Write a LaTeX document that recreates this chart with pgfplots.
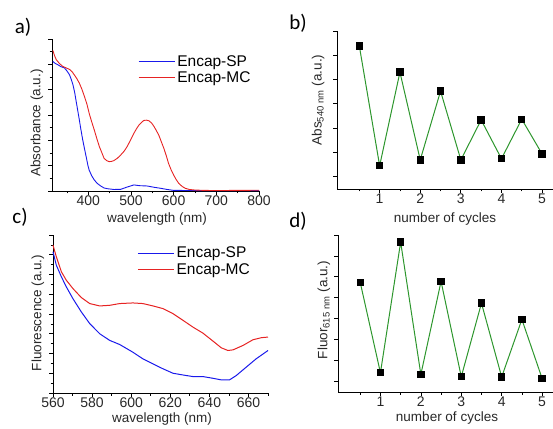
\documentclass[border=0pt]{standalone}
\usepackage{fontspec}
\setmainfont{Liberation Sans}
\newfontfamily\calfont{Carlito}
\usepackage{pgfplots}
\pgfplotsset{compat=1.18}

\definecolor{spblue}{RGB}{25,25,235}
\definecolor{mcred}{RGB}{230,35,35}
\definecolor{cycgreen}{RGB}{45,150,45}
\definecolor{txtgray}{RGB}{40,40,40}

\pgfplotsset{
  panel/.style={
    scale only axis,
    axis x line*=bottom, axis y line*=left,
    axis line style={-, black, line width=0.8pt},
    tick align=outside,
    major tick length=4pt, minor tick length=2.5pt,
    every tick/.style={black, line width=0.7pt},
    yticklabels={},
    tick label style={font=\fontsize{14}{16}\selectfont, text=txtgray},
    xticklabel style={inner sep=1pt},
    /pgf/number format/assume math mode=true,
    clip=false,
  },
  cyc/.style={panel,
    xmin=-0.05, xmax=5.27,
    xtick={1,2,3,4,5},
    minor xtick={0.5,1.5,2.5,3.5,4.5},
  },
  cycline/.style={color=cycgreen, line width=1pt,
    mark=square*, mark size=3.2pt, mark options={black, fill=black}},
  lgd/.style={legend style={draw=none, fill=none, anchor=north west,
      font=\fontsize{15.5}{18}\selectfont, row sep=0pt},
    legend cell align=left},
  bluelg/.style={legend image code/.code={\draw[color=spblue, line width=1.3pt] (0pt,0pt) -- (36pt,0pt);}},
  redlg/.style={legend image code/.code={\draw[color=mcred, line width=1.3pt] (0pt,0pt) -- (36pt,0pt);}},
}

\begin{document}
\begin{tikzpicture}
\useasboundingbox (0,0) rectangle (553pt,428pt);

% a) absorbance spectra
\begin{axis}[panel, lgd, at={(52pt,237pt)}, anchor=south west,
  width=207pt, height=152pt,
  xmin=315, xmax=800, ymin=0, ymax=1,
  xtick={400,500,600,700,800}, minor xtick={350,450,550,650,750},
  ytick={0,0.16667,0.33333,0.5,0.66667,0.83333,1},
  minor ytick={0.08333,0.25,0.41667,0.58333,0.75,0.91667},
  legend style={at={(0.40,0.92)}},
]
\addplot[color=spblue, line width=0.9pt, bluelg] coordinates {
(317,0.853)(322,0.84)(329,0.83)(336,0.818)(344,0.81)(350,0.79)(356,0.765)(360,0.735)(364,0.70)
(368,0.65)(371,0.60)(375,0.535)(379,0.468)(383,0.40)(387,0.336)(391,0.28)(395,0.226)(399,0.17)
(402,0.138)(408,0.10)(414,0.073)(421,0.05)(429,0.033)(437,0.02)(445,0.015)(460,0.01)(476,0.011)
(490,0.025)(507,0.04)(520,0.035)(538,0.033)(553,0.025)(569,0.018)(585,0.01)(600,0.004)
(650,0.003)(700,0.002)(750,0.003)(800,0.002)};
\addlegendentry{Encap-SP}
\addplot[color=mcred, line width=0.9pt, redlg] coordinates {
(317,0.925)(321,0.89)(325,0.864)(332,0.84)(340,0.82)(348,0.81)(356,0.80)(362,0.785)(367,0.765)
(373,0.74)(379,0.71)(385,0.67)(391,0.622)(397,0.57)(402,0.512)(408,0.455)(414,0.402)(420,0.345)
(426,0.292)(432,0.25)(437,0.215)(443,0.2)(449,0.193)(455,0.195)(460,0.2)(468,0.215)(476,0.237)
(484,0.262)(491,0.292)(499,0.335)(507,0.38)(513,0.41)(519,0.435)(525,0.452)(530,0.464)(536,0.466)
(542,0.462)(548,0.448)(553,0.429)(559,0.40)(565,0.369)(571,0.325)(577,0.281)(583,0.23)(588,0.182)
(594,0.14)(600,0.105)(606,0.075)(612,0.05)(620,0.03)(627,0.018)(637,0.01)(647,0.007)(670,0.004)
(700,0.003)(750,0.004)(800,0.005)};
\addlegendentry{Encap-MC}
\end{axis}

% b) absorbance at 540 nm over cycles
\begin{axis}[cyc, at={(337pt,239pt)}, anchor=south west,
  width=216pt, height=158pt,
  ymin=0.48, ymax=7, ytick={1,2,3,4,5,6,7},
]
\addplot[cycline] coordinates {(0.5,6.38)(1,1.44)(1.5,5.30)(2,1.68)(2.5,4.52)(3,1.68)(3.5,3.33)(4,1.73)(4.5,3.36)(5,1.93)};
\end{axis}

% c) fluorescence spectra
\begin{axis}[panel, lgd, at={(53pt,35pt)}, anchor=south west,
  width=215pt, height=158pt,
  xmin=560, xmax=670, ymin=0, ymax=1,
  xtick={560,580,600,620,640,660}, minor xtick={570,590,610,630,650,670},
  ytick={0,0.125,0.25,0.375,0.5,0.625,0.75,0.875,1},
  minor ytick={0.0625,0.1875,0.3125,0.4375,0.5625,0.6875,0.8125,0.9375},
  legend style={at={(0.377,0.95)}},
]
\addplot[color=spblue, line width=1pt, bluelg] coordinates {
(560,0.894)(561.7,0.809)(564.3,0.735)(566.8,0.672)(570.2,0.597)(574.5,0.513)(578.8,0.439)
(583.9,0.375)(589,0.333)(594.1,0.307)(600.9,0.258)(606,0.216)(611.2,0.184)(616.3,0.153)
(621.4,0.125)(626.5,0.114)(631.6,0.104)(636.7,0.104)(641.9,0.093)(646.1,0.083)(650.3,0.083)
(653.7,0.110)(658.8,0.163)(663.9,0.216)(670,0.269)};
\addlegendentry{Encap-SP}
\addplot[color=mcred, line width=1pt, redlg] coordinates {
(560,0.936)(561.7,0.862)(564.3,0.767)(566.8,0.714)(570.2,0.661)(574.5,0.604)(578.8,0.566)
(583.9,0.551)(589,0.555)(594.1,0.566)(600.9,0.570)(606,0.566)(611.2,0.551)(616.3,0.534)
(621.4,0.502)(626.5,0.460)(631.6,0.417)(636.7,0.379)(641.9,0.328)(646.1,0.286)(649.5,0.269)
(652.1,0.273)(657.2,0.301)(662.3,0.337)(666.6,0.350)(670,0.354)};
\addlegendentry{Encap-MC}
\end{axis}

% d) fluorescence at 615 nm over cycles
\begin{axis}[cyc, at={(338pt,36pt)}, anchor=south west,
  width=215pt, height=157pt,
  ymin=0.49, ymax=8, ytick={1,2,3,4,5,6,7,8},
]
\addplot[cycline] coordinates {(0.5,5.73)(1,1.41)(1.5,7.66)(2,1.33)(2.5,5.78)(3,1.22)(3.5,4.74)(4,1.21)(4.5,3.96)(5,1.14)};
\end{axis}

% axis titles and panel letters
\begin{scope}[every node/.style={text=txtgray, font=\fontsize{13.5}{15}\selectfont}]
\node at (157pt,209pt) {wavelength (nm)};
\node at (162pt,9pt) {wavelength (nm)};
\node at (445pt,209pt) {number of cycles};
\node at (447pt,10pt) {number of cycles};
\node[rotate=90] at (37pt,305pt) {Absorbance (a.u.)};
\node[rotate=90] at (38pt,115pt) {Fluorescence (a.u.)};
\node[rotate=90] at (318pt,328pt) {Abs\textsubscript{540 nm} (a.u.)};
\node[rotate=90] at (324pt,118pt) {Fluor\textsubscript{615 nm} (a.u.)};
\end{scope}
\begin{scope}[every node/.style={font=\calfont\fontsize{21}{24}\selectfont}]
\node at (23pt,401pt) {a)};
\node at (298pt,405pt) {b)};
\node at (20pt,211pt) {c)};
\node at (298pt,207pt) {d)};
\end{scope}
\end{tikzpicture}
\end{document}
